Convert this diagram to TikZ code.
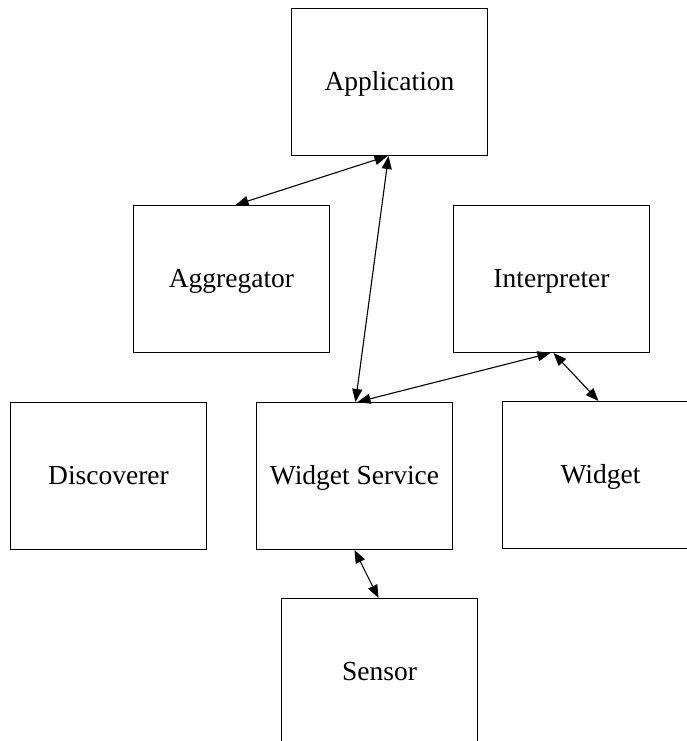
\documentclass[tikz,border=0pt]{standalone}
\usepackage{fontspec}
\setmainfont{Liberation Serif}
\usetikzlibrary{arrows.meta}

\tikzset{
  comp/.style={draw=black, line width=1pt, rectangle, inner sep=0pt,
    minimum width=196pt, minimum height=147pt, anchor=north west,
    text height=17pt, text depth=0pt,
    font=\fontsize{27.5}{32}\selectfont},
  link/.style={line width=1.1pt, {Triangle[length=13pt,width=10pt]}-{Triangle[length=13pt,width=10pt]}}
}

\begin{document}
\begin{tikzpicture}[x=1pt,y=-1pt]
  \useasboundingbox (0,0) rectangle (687,741);
  \clip (0,0) rectangle (687,741);
  \fill[white] (0,0) rectangle (687,741);

  % components
  \node[comp] (app) at (291,8)   {Application};
  \node[comp] (agg) at (133,205) {Aggregator};
  \node[comp] (int) at (453,205) {Interpreter};
  \node[comp] (dis) at (10,402)  {Discoverer};
  \node[comp] (ws)  at (256,402) {Widget Service};
  \node[comp] (wid) at (502,401) {Widget};
  \node[comp] (sen) at (281,598) {Sensor};

  % two-way links
  \draw[link] ([xshift=-2pt]app.south) -- ([xshift=4pt]agg.north);
  \draw[link] ([xshift=-1pt]app.south) -- ([xshift=1pt]ws.north);
  \draw[link] ([xshift=-1pt]int.south) -- ([xshift=3pt]ws.north);
  \draw[link] ([xshift=2pt]int.south)  -- ([xshift=-2pt]wid.north);
  \draw[link] (ws.south) -- ([xshift=-1pt]sen.north);
\end{tikzpicture}
\end{document}
